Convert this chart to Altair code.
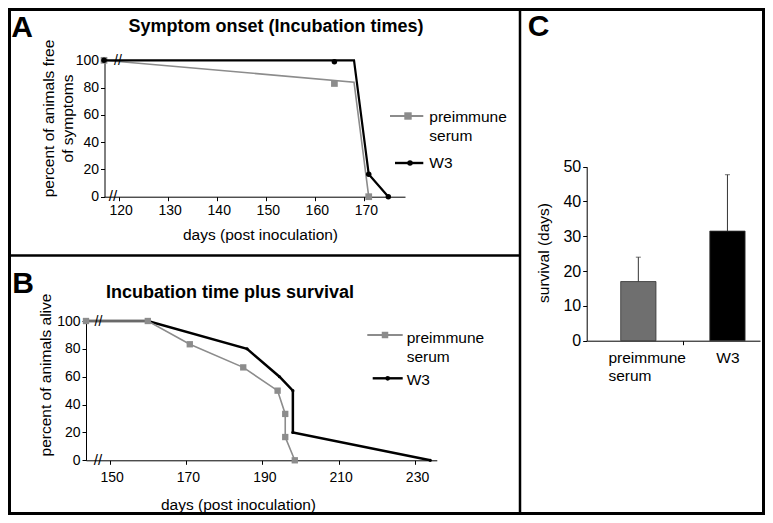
import altair as alt
import pandas as pd

# ---------------- data ----------------
series = ["preimmune serum", "W3"]

# Panel A - symptom onset (incubation times)
a_pre_line_day = [0, 168, 171]
a_pre_line_pct = [100, 84, 0]
a_pre_mark_day = [0, 164, 171]
a_pre_mark_pct = [100, 83, 0]
a_w3_line_day = [0, 168, 171, 175]
a_w3_line_pct = [100, 100, 16.5, 0]
a_w3_mark_day = [0, 164, 171, 175]
a_w3_mark_pct = [100, 99, 16.5, 0]
a_ticks = [120, 130, 140, 150, 160, 170]

# Panel B - incubation time plus survival
b_pre_day = [0, 160, 171, 185, 194, 196, 196, 198.5]
b_pre_pct = [100, 100, 83.3, 66.7, 50, 33.3, 16.7, 0]
b_w3_day = [0, 160, 186, 194.5, 198, 198, 234]
b_w3_pct = [100, 100, 80, 60, 50, 20, 0]
b_ticks = [150, 170, 190, 210, 230]

pct_ticks = [0, 20, 40, 60, 80, 100]

# Panel C - survival
c_groups = ["preimmune serum", "W3"]
c_mean = [17.0, 31.5]
c_err = [7.0, 16.2]
c_ticks = [0, 10, 20, 30, 40, 50]

# ---------------- layout constants ----------------
W, H, M = 757, 507, 8
GRAY = "#8c8c8c"
FONT = "Liberation Sans"

IS_W3 = "datum.value === 'W3'"
SPLIT = "datum.label == 'preimmune serum' ? ['preimmune', 'serum'] : datum.label"


def frame(days, pcts, name):
    return pd.DataFrame({"day": days, "pct": pcts, "series": name, "i": list(range(len(days)))})


one = pd.DataFrame({"k": [0]})


def cond(a, b):
    return {"condition": {"test": IS_W3, "value": a}, "value": b}


def y_axis(ax_x, title, title_x, title_y, values, lab_size=14):
    return alt.Axis(
        orient="left", offset=-(ax_x - M), values=values, title=title,
        titleX=title_x, titleY=title_y, titleBaseline="middle", titleAlign="center",
        titleAngle=-90, titleFontSize=15.5, titleLineHeight=18.5,
        labelFontSize=lab_size, labelPadding=2, tickSize=4, grid=False,
    )


def x_axis(ax_y, title, title_x, title_y, values, pad):
    return alt.Axis(
        orient="bottom", offset=(ax_y - M) - H, values=values, title=title,
        titleX=title_x, titleY=title_y, titleBaseline="middle", titleAlign="center",
        titleFontSize=15.5, labelFontSize=14, labelPadding=pad, tickSize=4,
        labelFlush=False, labelOverlap=False, grid=False, labelOffset=2,
    )


def enc(xs, ys, xax, yax):
    return dict(x=alt.X("day:Q", scale=xs, axis=xax), y=alt.Y("pct:Q", scale=ys, axis=yax))


# ---------------- panel A ----------------
xA = alt.Scale(domain=[0, 120, 178.4], range=[104 - M, 118.7 - M, 405 - M], zero=False, nice=False)
yA = alt.Scale(domain=[0, 100], range=[196.7 - M, 60.3 - M], zero=False, nice=False)
cA = alt.Scale(domain=series, range=[GRAY, "black"])
xA_ax = x_axis(196.7, "days (post inoculation)", 260 - M, 38, a_ticks, 3)
yA_ax = y_axis(104.5, ["percent of animals free", "of symptoms"], -56, 118 - M, pct_ticks)

A = alt.layer(
    alt.Chart(frame(a_pre_line_day, a_pre_line_pct, series[0])).mark_line(strokeWidth=1.6).encode(
        **enc(xA, yA, xA_ax, yA_ax), order="i:Q", color=alt.Color("series:N", scale=cA, legend=None)),
    alt.Chart(frame(a_pre_mark_day, a_pre_mark_pct, series[0])).mark_point(
        shape="square", filled=True, size=45, color=GRAY, opacity=1).encode(**enc(xA, yA, xA_ax, yA_ax)),
    alt.Chart(frame(a_w3_line_day, a_w3_line_pct, series[1])).mark_line(strokeWidth=2.2).encode(
        **enc(xA, yA, xA_ax, yA_ax), order="i:Q", color=alt.Color("series:N", scale=cA, legend=None)),
    alt.Chart(frame(a_w3_mark_day, a_w3_mark_pct, series[1])).mark_point(
        shape="circle", filled=True, size=30, color="black", opacity=1).encode(**enc(xA, yA, xA_ax, yA_ax)),
)

# ---------------- panel B ----------------
xB = alt.Scale(domain=[0, 149, 235.7], range=[86 - M, 105.8 - M, 436.8 - M], zero=False, nice=False)
yB = alt.Scale(domain=[0, 100], range=[460.3 - M, 321 - M], zero=False, nice=False)
cB = alt.Scale(domain=series, range=[GRAY, "black"])
xB_ax = x_axis(460.3, "days (post inoculation)", 238 - M, 43.7, b_ticks, 6)
yB_ax = y_axis(86, "percent of animals alive", -41, 374.5 - M, pct_ticks)

B = alt.layer(
    alt.Chart(frame(b_w3_day, b_w3_pct, series[1])).mark_line(strokeWidth=2.5).encode(
        **enc(xB, yB, xB_ax, yB_ax), order="i:Q", color=alt.Color("series:N", scale=cB, legend=None)),
    alt.Chart(frame(b_w3_day, b_w3_pct, series[1])).mark_point(
        shape="circle", filled=True, size=10, color="black", opacity=1).encode(**enc(xB, yB, xB_ax, yB_ax)),
    alt.Chart(frame(b_pre_day, b_pre_pct, series[0])).mark_line(strokeWidth=1.6).encode(
        **enc(xB, yB, xB_ax, yB_ax), order="i:Q", color=alt.Color("series:N", scale=cB, legend=None)),
    alt.Chart(frame(b_pre_day, b_pre_pct, series[0])).mark_point(
        shape="square", filled=True, size=40, color=GRAY, opacity=1).encode(**enc(xB, yB, xB_ax, yB_ax)),
)

# ---------------- panel C ----------------
dfC = pd.DataFrame({"group": c_groups, "mean": c_mean, "err": c_err})
xC = alt.Scale(domain=c_groups, range=[586.7 - M, 760 - M], paddingInner=0.604, paddingOuter=0.2745, align=0.695)
yC = alt.Scale(domain=[0, 50], range=[340.7 - M, 166.7 - M], zero=False, nice=False)
xC_ax = alt.Axis(
    orient="bottom", offset=(340.7 - M) - H, title=None, labelExpr=SPLIT, labelAngle=0,
    tickOffset=44.55, labelOffset=cond(-44.5, -75), labelAlign=cond("center", "left"),
    labelBaseline="top", labelPadding=6, labelFontSize=15.5, labelLineHeight=18, tickSize=4, grid=False,
)
yC_ax = y_axis(586.7, "survival (days)", -43.7, 252.5 - M, c_ticks, 16)

baseC = alt.Chart(dfC).encode(x=alt.X("group:N", scale=xC, axis=xC_ax, sort=c_groups))
C = alt.layer(
    baseC.mark_bar(stroke="#333333", strokeWidth=0.8).encode(
        y=alt.Y("mean:Q", scale=yC, axis=yC_ax),
        color=alt.Color("group:N", scale=alt.Scale(domain=c_groups, range=["#6f6f6f", "black"]), legend=None)),
    baseC.mark_rule(color="#333333", strokeWidth=1).transform_calculate(top="datum.mean + datum.err").encode(
        y=alt.Y("mean:Q", scale=yC, axis=yC_ax), y2="top:Q"),
    baseC.mark_tick(orient="horizontal", size=5, thickness=1, color="#333333").transform_calculate(
        top="datum.mean + datum.err").encode(y=alt.Y("top:Q", scale=yC, axis=yC_ax)),
)


# ---------------- decorations (titles, letters, axis breaks, legends, frame) ----------------
def text(t, x, y, size, weight="normal", align="center", wrap=False):
    props = dict(text=t, fontSize=size, fontWeight=weight, font=FONT, align=align,
                 baseline="middle", color="black")
    if wrap:
        props.update(lineBreak=" ", lineHeight=19)
    return alt.Chart(one).mark_text(**props).encode(x=alt.value(x - M), y=alt.value(y - M))


def legend_entry(name, color, shape, msize, sw, x1, x2, y, mx, tx, ty):
    return [
        alt.Chart(one).mark_rule(color=color, strokeWidth=sw).encode(
            x=alt.value(x1 - M), x2=alt.value(x2 - M), y=alt.value(y - M)),
        alt.Chart(one).mark_point(shape=shape, filled=True, size=msize, color=color, opacity=1).encode(
            x=alt.value(mx - M), y=alt.value(y - M)),
        text(name, tx, ty, 15.5, align="left", wrap=True),
    ]


legends = (
    legend_entry(series[0], GRAY, "square", 55, 1.8, 390, 423.3, 116, 408, 429.3, 116.5)
    + legend_entry(series[1], "black", "circle", 30, 2.4, 395, 423.3, 163, 410, 429.3, 163)
    + legend_entry(series[0], GRAY, "square", 42, 1.8, 367.3, 402.7, 335, 385, 406.7, 337.5)
    + legend_entry(series[1], "black", "circle", 22, 2.4, 372.7, 402.7, 378.3, 387.7, 406.7, 380)
)

deco = [
    text("Symptom onset (Incubation times)", 276, 27, 18, "bold"),
    text("Incubation time plus survival", 230, 293, 18, "bold"),
    text("A", 22, 28, 30, "bold"),
    text("B", 23, 284, 30, "bold"),
    text("C", 538.5, 27, 30, "bold"),
    text("//", 118, 61, 14),
    text("//", 113, 196, 15),
    text("//", 98.5, 321.5, 14),
    text("//", 98, 460, 15),
    alt.Chart(one).mark_rect(filled=False, stroke="black", strokeWidth=3).encode(
        x=alt.value(1.5), x2=alt.value(W - 1.5), y=alt.value(1.5), y2=alt.value(H - 1.5)),
    alt.Chart(one).mark_rule(color="black", strokeWidth=2.5).encode(
        x=alt.value(520 - M), y=alt.value(0), y2=alt.value(H)),
    alt.Chart(one).mark_rule(color="black", strokeWidth=2.5).encode(
        x=alt.value(0), x2=alt.value(520 - M), y=alt.value(255.5 - M)),
]

IND = "independent"
chart = (
    alt.layer(A, B, C, *legends, *deco)
    .resolve_scale(x=IND, y=IND, color=IND)
    .resolve_axis(x=IND, y=IND)
    .properties(width=W, height=H, autosize=alt.AutoSizeParams(type="none"), padding=0, background="white")
    .configure_view(stroke=None)
    .configure_axis(
        grid=False, domainColor="black", tickColor="black", labelColor="black", titleColor="black",
        labelFont=FONT, titleFont=FONT, titleFontWeight="normal", domainWidth=1, tickWidth=1,
    )
)

chart.save("out.html", embed_options={"renderer": "svg", "actions": False})
